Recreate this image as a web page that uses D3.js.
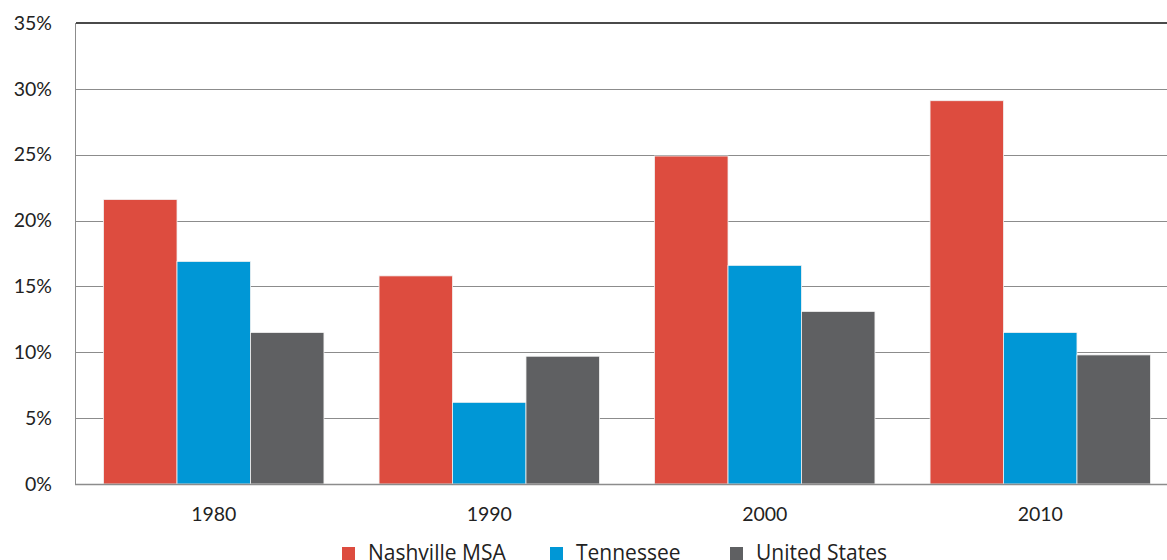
<!DOCTYPE html>
<html>
<head>
<meta charset="utf-8">
<script src="https://cdn.jsdelivr.net/npm/d3@7/dist/d3.min.js"></script>
<style>
  html, body { margin: 0; padding: 0; background: #fff; overflow: hidden; }
  svg { display: block; }
</style>
</head>
<body>
<svg id="chart" width="1167" height="560"></svg>
<script>
// Decennial population growth rates (percent)
const years = ["1980", "1990", "2000", "2010"];
const seriesNames = ["Nashville MSA", "Tennessee", "United States"];
const nashville = [21.6, 15.8, 24.9, 29.1];
const tennessee = [16.9, 6.2, 16.6, 11.5];
const unitedStates = [11.5, 9.7, 13.1, 9.8];
const yTicks = [0, 5, 10, 15, 20, 25, 30, 35];
const colors = ["#DD4C3F", "#0097D6", "#5F6062"];
const title = "Population Growth Rate by Decade";

const seriesValues = [nashville, tennessee, unitedStates];

const svg = d3.select("#chart");
const plotLeft = 76, plotRight = 1178, plotTop = 23, plotBottom = 484;

const x0 = d3.scaleBand().domain(years).range([plotLeft, plotRight])
  .paddingInner(0.2).paddingOuter(0.1);
const x1 = d3.scaleBand().domain(seriesNames).range([0, x0.bandwidth()]);
const y = d3.scaleLinear().domain([0, 35]).range([plotBottom, plotTop]);

// title (sits mostly above the visible area)
svg.append("text")
  .attr("x", 592).attr("y", -5)
  .attr("text-anchor", "middle")
  .attr("font-family", "Lato, sans-serif")
  .attr("font-size", 22).attr("fill", "#555")
  .text(title);

// horizontal gridlines
svg.append("g").selectAll("line")
  .data(yTicks.filter(t => t > 0 && t < 35))
  .join("line")
  .attr("x1", plotLeft).attr("x2", plotRight)
  .attr("y1", d => Math.round(y(d)) + 0.5).attr("y2", d => Math.round(y(d)) + 0.5)
  .attr("stroke", "#8c8c8c").attr("stroke-width", 1);

// bars
const groups = svg.append("g").selectAll("g")
  .data(years)
  .join("g")
  .attr("transform", d => `translate(${x0(d)},0)`);

groups.selectAll("rect")
  .data((d, i) => seriesNames.map((s, j) => ({ s, j, v: seriesValues[j][i] })))
  .join("rect")
  .attr("x", d => x1(d.s))
  .attr("width", x1.bandwidth())
  .attr("y", d => y(d.v))
  .attr("height", d => y(0) - y(d.v))
  .attr("fill", d => colors[d.j])
  .attr("stroke", "#f2f2f2").attr("stroke-width", 0.8);

// top border line
svg.append("line")
  .attr("x1", plotLeft).attr("x2", plotRight)
  .attr("y1", y(35)).attr("y2", y(35))
  .attr("stroke", "#4a4a4a").attr("stroke-width", 2);

// left axis line
svg.append("line")
  .attr("x1", plotLeft - 0.5).attr("x2", plotLeft - 0.5)
  .attr("y1", y(35)).attr("y2", plotBottom + 1)
  .attr("stroke", "#8c8c8c").attr("stroke-width", 1);

// baseline
svg.append("line")
  .attr("x1", plotLeft - 1).attr("x2", plotRight)
  .attr("y1", plotBottom + 0.5).attr("y2", plotBottom + 0.5)
  .attr("stroke", "#8c8c8c").attr("stroke-width", 1.5);

// y axis labels
const yAxis = d3.axisLeft(y).tickValues(yTicks).tickFormat(d => d + "%").tickSize(0).tickPadding(24);
const gy = svg.append("g").attr("transform", `translate(${plotLeft},0)`).call(yAxis);
gy.select(".domain").remove();
gy.selectAll("text")
  .attr("font-family", "Lato, sans-serif").attr("font-size", 19.5).attr("fill", "#222");

// x axis labels
const xAxis = d3.axisBottom(x0).tickSize(0).tickPadding(23);
const gx = svg.append("g").attr("transform", `translate(0,${plotBottom})`).call(xAxis);
gx.select(".domain").remove();
gx.selectAll("text")
  .attr("font-family", "Lato, sans-serif").attr("font-size", 19.5).attr("fill", "#222");

// legend
const legendX = [342, 550, 730];
const legend = svg.append("g").selectAll("g")
  .data(seriesNames)
  .join("g")
  .attr("transform", (d, i) => `translate(${legendX[i]},547)`);
legend.append("rect")
  .attr("width", 13).attr("height", 13)
  .attr("fill", (d, i) => colors[i]);
legend.append("text")
  .attr("x", 26).attr("y", 13)
  .attr("font-family", "'Open Sans', sans-serif").attr("font-size", 21).attr("fill", "#222")
  .text(d => d);
</script>
</body>
</html>
